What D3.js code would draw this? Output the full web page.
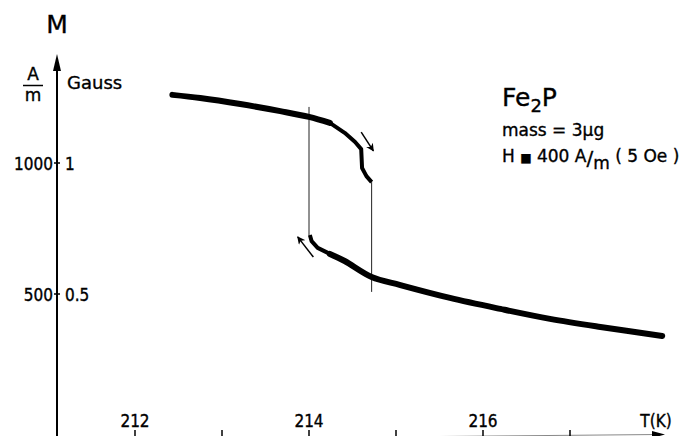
<!DOCTYPE html>
<html>
<head>
<meta charset="utf-8">
<script src="https://cdn.jsdelivr.net/npm/d3@7/dist/d3.min.js"></script>
<style>
body { margin:0; background:#fff; }
svg { display:block; font-family:"DejaVu Sans",sans-serif; }
svg text { stroke:#000; stroke-width:0.35; }
.num { font-family:"DejaVu Sans Condensed","DejaVu Sans",sans-serif; font-stretch:condensed; }
</style>
</head>
<body>
<svg id="chart" width="692" height="436"></svg>
<script>
// heating branch (upper), T in K, M in A/m
const heatingT = [212.43,212.75,213.21,213.67,214.00,214.24,214.41,214.53,214.60,214.61,214.66,214.72];
const heatingM = [1260,1248,1225,1198,1176,1153,1115,1080,1053,981,950,927];
// cooling branch (lower)
const coolingT = [214.01,214.03,214.10,214.24,214.41,214.72,215.05,215.62,216.20,216.77,217.35,218.06];
const coolingM = [725,702,676,653,626,565,534,485,443,405,374,340];
// thin vertical jump lines
const jumpT = [214.00,214.72];
const jumpTop = [1214,927];
const jumpBottom = [725,508];
// direction arrows, start and end
const arrowsT0 = [214.60,214.05];
const arrowsM0 = [1118,641];
const arrowsT1 = [214.74,213.87];
const arrowsM1 = [1046,718];

const xTicks = [212,213,214,215,216,217];
const xTickLabels = ["212","","214","","216",""];
const yTicks = [1000,500];
const yTickLabelsSI = ["1000","500"];
const yTickLabelsCGS = ["1","0.5"];

const svg = d3.select("#chart");
const x = d3.scaleLinear().domain([212,216]).range([135,483]);
const y = d3.scaleLinear().domain([0,1000]).range([425,163]);
const axisX = 57;
const fontSize = 17;

svg.append("defs").append("marker")
    .attr("id","head")
    .attr("viewBox","0 0 10 10")
    .attr("refX",9)
    .attr("refY",5)
    .attr("markerWidth",8)
    .attr("markerHeight",8)
    .attr("markerUnits","userSpaceOnUse")
    .attr("orient","auto")
    .append("path")
    .attr("d","M0,0 L10,5 L0,10 L3,5 Z")
    .attr("fill","#000");

// y axis
svg.append("line")
    .attr("x1",axisX).attr("x2",axisX)
    .attr("y1",436).attr("y2",60)
    .attr("stroke","#000")
    .attr("stroke-width",2);
svg.append("path")
    .attr("d",`M${axisX},54 L${axisX-4},71 L${axisX+4},71 Z`)
    .attr("fill","#000");

const yt = svg.append("g");
yTicks.forEach((v,i) =>
{
    yt.append("line")
        .attr("x1",axisX-3).attr("x2",axisX+3)
        .attr("y1",y(v)).attr("y2",y(v))
        .attr("stroke","#000").attr("stroke-width",1.5);
    yt.append("text")
        .attr("class","num")
        .text(yTickLabelsSI[i])
        .attr("x",axisX-4).attr("y",y(v)+6.5)
        .attr("text-anchor","end")
        .attr("font-size",fontSize);
    yt.append("text")
        .attr("class","num")
        .text(yTickLabelsCGS[i])
        .attr("x",axisX+8).attr("y",y(v)+6.5)
        .attr("font-size",fontSize);
});

svg.append("text").text("M")
    .attr("x",axisX).attr("y",33)
    .attr("text-anchor","middle")
    .attr("font-size",25);
svg.append("text").text("Gauss")
    .attr("x",67).attr("y",89)
    .attr("font-size",18);
svg.append("text").text("A")
    .attr("x",33).attr("y",80)
    .attr("text-anchor","middle")
    .attr("font-size",17);
svg.append("line")
    .attr("x1",23).attr("x2",43)
    .attr("y1",85.5).attr("y2",85.5)
    .attr("stroke","#000").attr("stroke-width",1.5);
svg.append("text").text("m")
    .attr("x",33).attr("y",101)
    .attr("text-anchor","middle")
    .attr("font-size",17);

// x axis, nearly cut off by the bottom edge and slightly tilted in the scan
svg.append("line")
    .attr("x1",axisX).attr("x2",658)
    .attr("y1",440).attr("y2",434.5)
    .attr("stroke","#888")
    .attr("stroke-width",1);
svg.append("path")
    .attr("d","M665,434.5 L652,431 L652,438 Z")
    .attr("fill","#000");
const xt = svg.append("g");
xTicks.forEach((v,i) =>
{
    xt.append("line")
        .attr("x1",x(v)).attr("x2",x(v))
        .attr("y1",430).attr("y2",436)
        .attr("stroke","#000").attr("stroke-width",1.5);
    if (xTickLabels[i])
        xt.append("text")
            .attr("class","num")
            .text(xTickLabels[i])
            .attr("x",x(v)).attr("y",427)
            .attr("text-anchor","middle")
            .attr("font-size",fontSize);
});
svg.append("text").text("T(K)")
    .attr("class","num")
    .attr("x",656).attr("y",427)
    .attr("text-anchor","middle")
    .attr("font-size",fontSize);

// data
const smooth = d3.line().x(d => x(d[0])).y(d => y(d[1])).curve(d3.curveCatmullRom);
const straight = d3.line().x(d => x(d[0])).y(d => y(d[1]));
const heating = heatingT.map((t,i) => [t,heatingM[i]]);
const cooling = coolingT.map((t,i) => [t,coolingM[i]]);

jumpT.forEach((t,i) =>
{
    svg.append("line")
        .attr("x1",x(t)).attr("x2",x(t))
        .attr("y1",y(jumpTop[i])).attr("y2",y(jumpBottom[i]))
        .attr("stroke","#222")
        .attr("stroke-width",1);
});

svg.append("path")
    .attr("d",smooth(heating.slice(0,6)))
    .attr("fill","none").attr("stroke","#000")
    .attr("stroke-width",6).attr("stroke-linecap","round");
svg.append("path")
    .attr("d",straight(heating.slice(5)))
    .attr("fill","none").attr("stroke","#000")
    .attr("stroke-width",4).attr("stroke-linejoin","round");
svg.append("path")
    .attr("d",straight(cooling.slice(0,4)))
    .attr("fill","none").attr("stroke","#000")
    .attr("stroke-width",4).attr("stroke-linejoin","round");
svg.append("path")
    .attr("d",smooth(cooling.slice(3)))
    .attr("fill","none").attr("stroke","#000")
    .attr("stroke-width",6).attr("stroke-linecap","round");

arrowsT0.forEach((t,i) =>
{
    svg.append("line")
        .attr("x1",x(t)).attr("y1",y(arrowsM0[i]))
        .attr("x2",x(arrowsT1[i])).attr("y2",y(arrowsM1[i]))
        .attr("stroke","#000").attr("stroke-width",1.5)
        .attr("marker-end","url(#head)");
});

// sample and field note
const note = svg.append("g").attr("transform","translate(502,0)");
const title = note.append("text").attr("y",106).attr("font-size",25);
title.append("tspan").text("Fe");
title.append("tspan").text("2").attr("font-size",18).attr("dy",6);
title.append("tspan").text("P").attr("dy",-6);
note.append("text").text("mass = 3\u00b5g")
    .attr("y",136).attr("font-size",17);
const field = note.append("text").attr("y",162).attr("font-size",17);
field.append("tspan").text("H ");
field.append("tspan").text("\u25a0").attr("font-size",12);
field.append("tspan").text(" 400 A");
field.append("tspan").text("/").attr("font-size",20).attr("dy",3);
field.append("tspan").text("m").attr("dy",4);
field.append("tspan").text(" ( 5 Oe )").attr("dy",-7);
</script>
</body>
</html>
